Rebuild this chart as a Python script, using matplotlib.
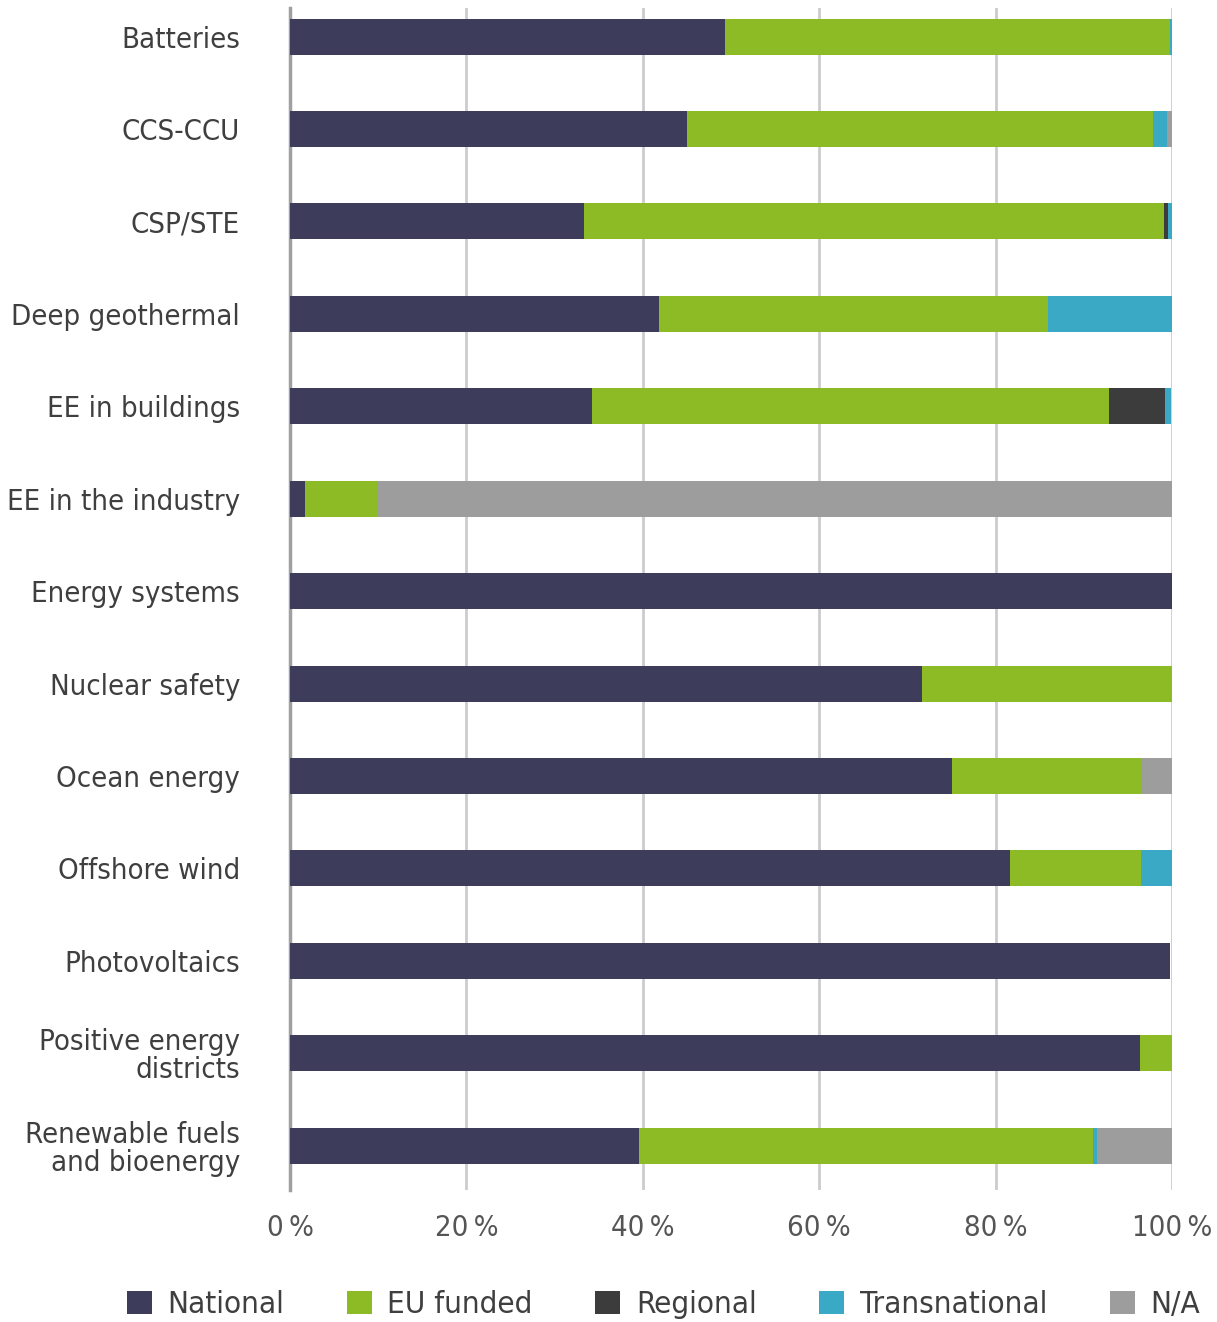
import matplotlib.pyplot as plt
from matplotlib.patches import Patch
from matplotlib.ticker import FuncFormatter

plt.rcParams['font.family'] = ['DejaVu Sans']
plt.rcParams['font.stretch'] = 'condensed'

categories = [
    "Batteries", "CCS-CCU", "CSP/STE", "Deep geothermal", "EE in buildings",
    "EE in the industry", "Energy systems", "Nuclear safety", "Ocean energy",
    "Offshore wind", "Photovoltaics", "Positive energy\ndistricts",
    "Renewable fuels\nand bioenergy",
]

# shares in percent
national = [49.3, 45.0, 33.3, 41.8, 34.2, 1.7, 100.0, 71.7, 75.1, 81.6, 99.8, 96.4, 39.6]
eu_funded = [50.5, 52.8, 65.8, 44.1, 58.7, 8.3, 0.0, 28.3, 21.5, 14.9, 0.0, 3.5, 51.5]
regional = [0.0, 0.0, 0.4, 0.0, 6.3, 0.0, 0.0, 0.0, 0.0, 0.0, 0.0, 0.0, 0.0]
transnational = [0.2, 1.6, 0.5, 14.1, 0.7, 0.0, 0.0, 0.0, 0.0, 3.5, 0.0, 0.0, 0.4]
not_available = [0.0, 0.6, 0.0, 0.0, 0.0, 90.0, 0.0, 0.0, 3.4, 0.0, 0.0, 0.1, 8.5]

series = [
    ("National", national, "#3d3c5a"),
    ("EU funded", eu_funded, "#8cbb26"),
    ("Regional", regional, "#3c3c3c"),
    ("Transnational", transnational, "#3aa9c6"),
    ("N/A", not_available, "#9d9d9d"),
]

text_color = "#3f3f3f"

fig = plt.figure(figsize=(12.17, 13.22), dpi=100)
ax = fig.add_axes([0.2383, 0.0998, 0.7247, 0.8942])

y = list(range(len(categories)))
left = [0.0] * len(categories)
for name, values, color in series:
    ax.barh(y, values, left=left, height=0.39, color=color, label=name, zorder=3)
    left = [a + b for a, b in zip(left, values)]

ax.set_xlim(0, 100)
ax.set_ylim(12.48, -0.31)
ax.set_xticks([0, 20, 40, 60, 80, 100])
ax.xaxis.set_major_formatter(FuncFormatter(lambda v, p: f"{int(v)}\u2009%"))
ax.set_yticks(y)
ax.set_yticklabels(categories, linespacing=1.0)
ax.grid(axis="x", color="#cccccc", linewidth=2, zorder=0)

for side in ["top", "right", "bottom"]:
    ax.spines[side].set_visible(False)
ax.spines["left"].set_color("#a0a0a0")
ax.spines["left"].set_linewidth(2.5)

ax.tick_params(axis="y", length=0, pad=36, labelsize=21, labelcolor=text_color)
ax.tick_params(axis="x", length=0, pad=17, labelsize=21, labelcolor="#555555")

handles = [Patch(facecolor=c, label=n) for n, _, c in series]
fig.legend(handles=handles, loc="center", bbox_to_anchor=(0.545, 0.013), ncol=5,
           frameon=False, fontsize=22.5, handlelength=0.8, handleheight=0.8,
           handletextpad=0.5, columnspacing=2.0, labelcolor=text_color)

fig.savefig("out.png", dpi=100)
